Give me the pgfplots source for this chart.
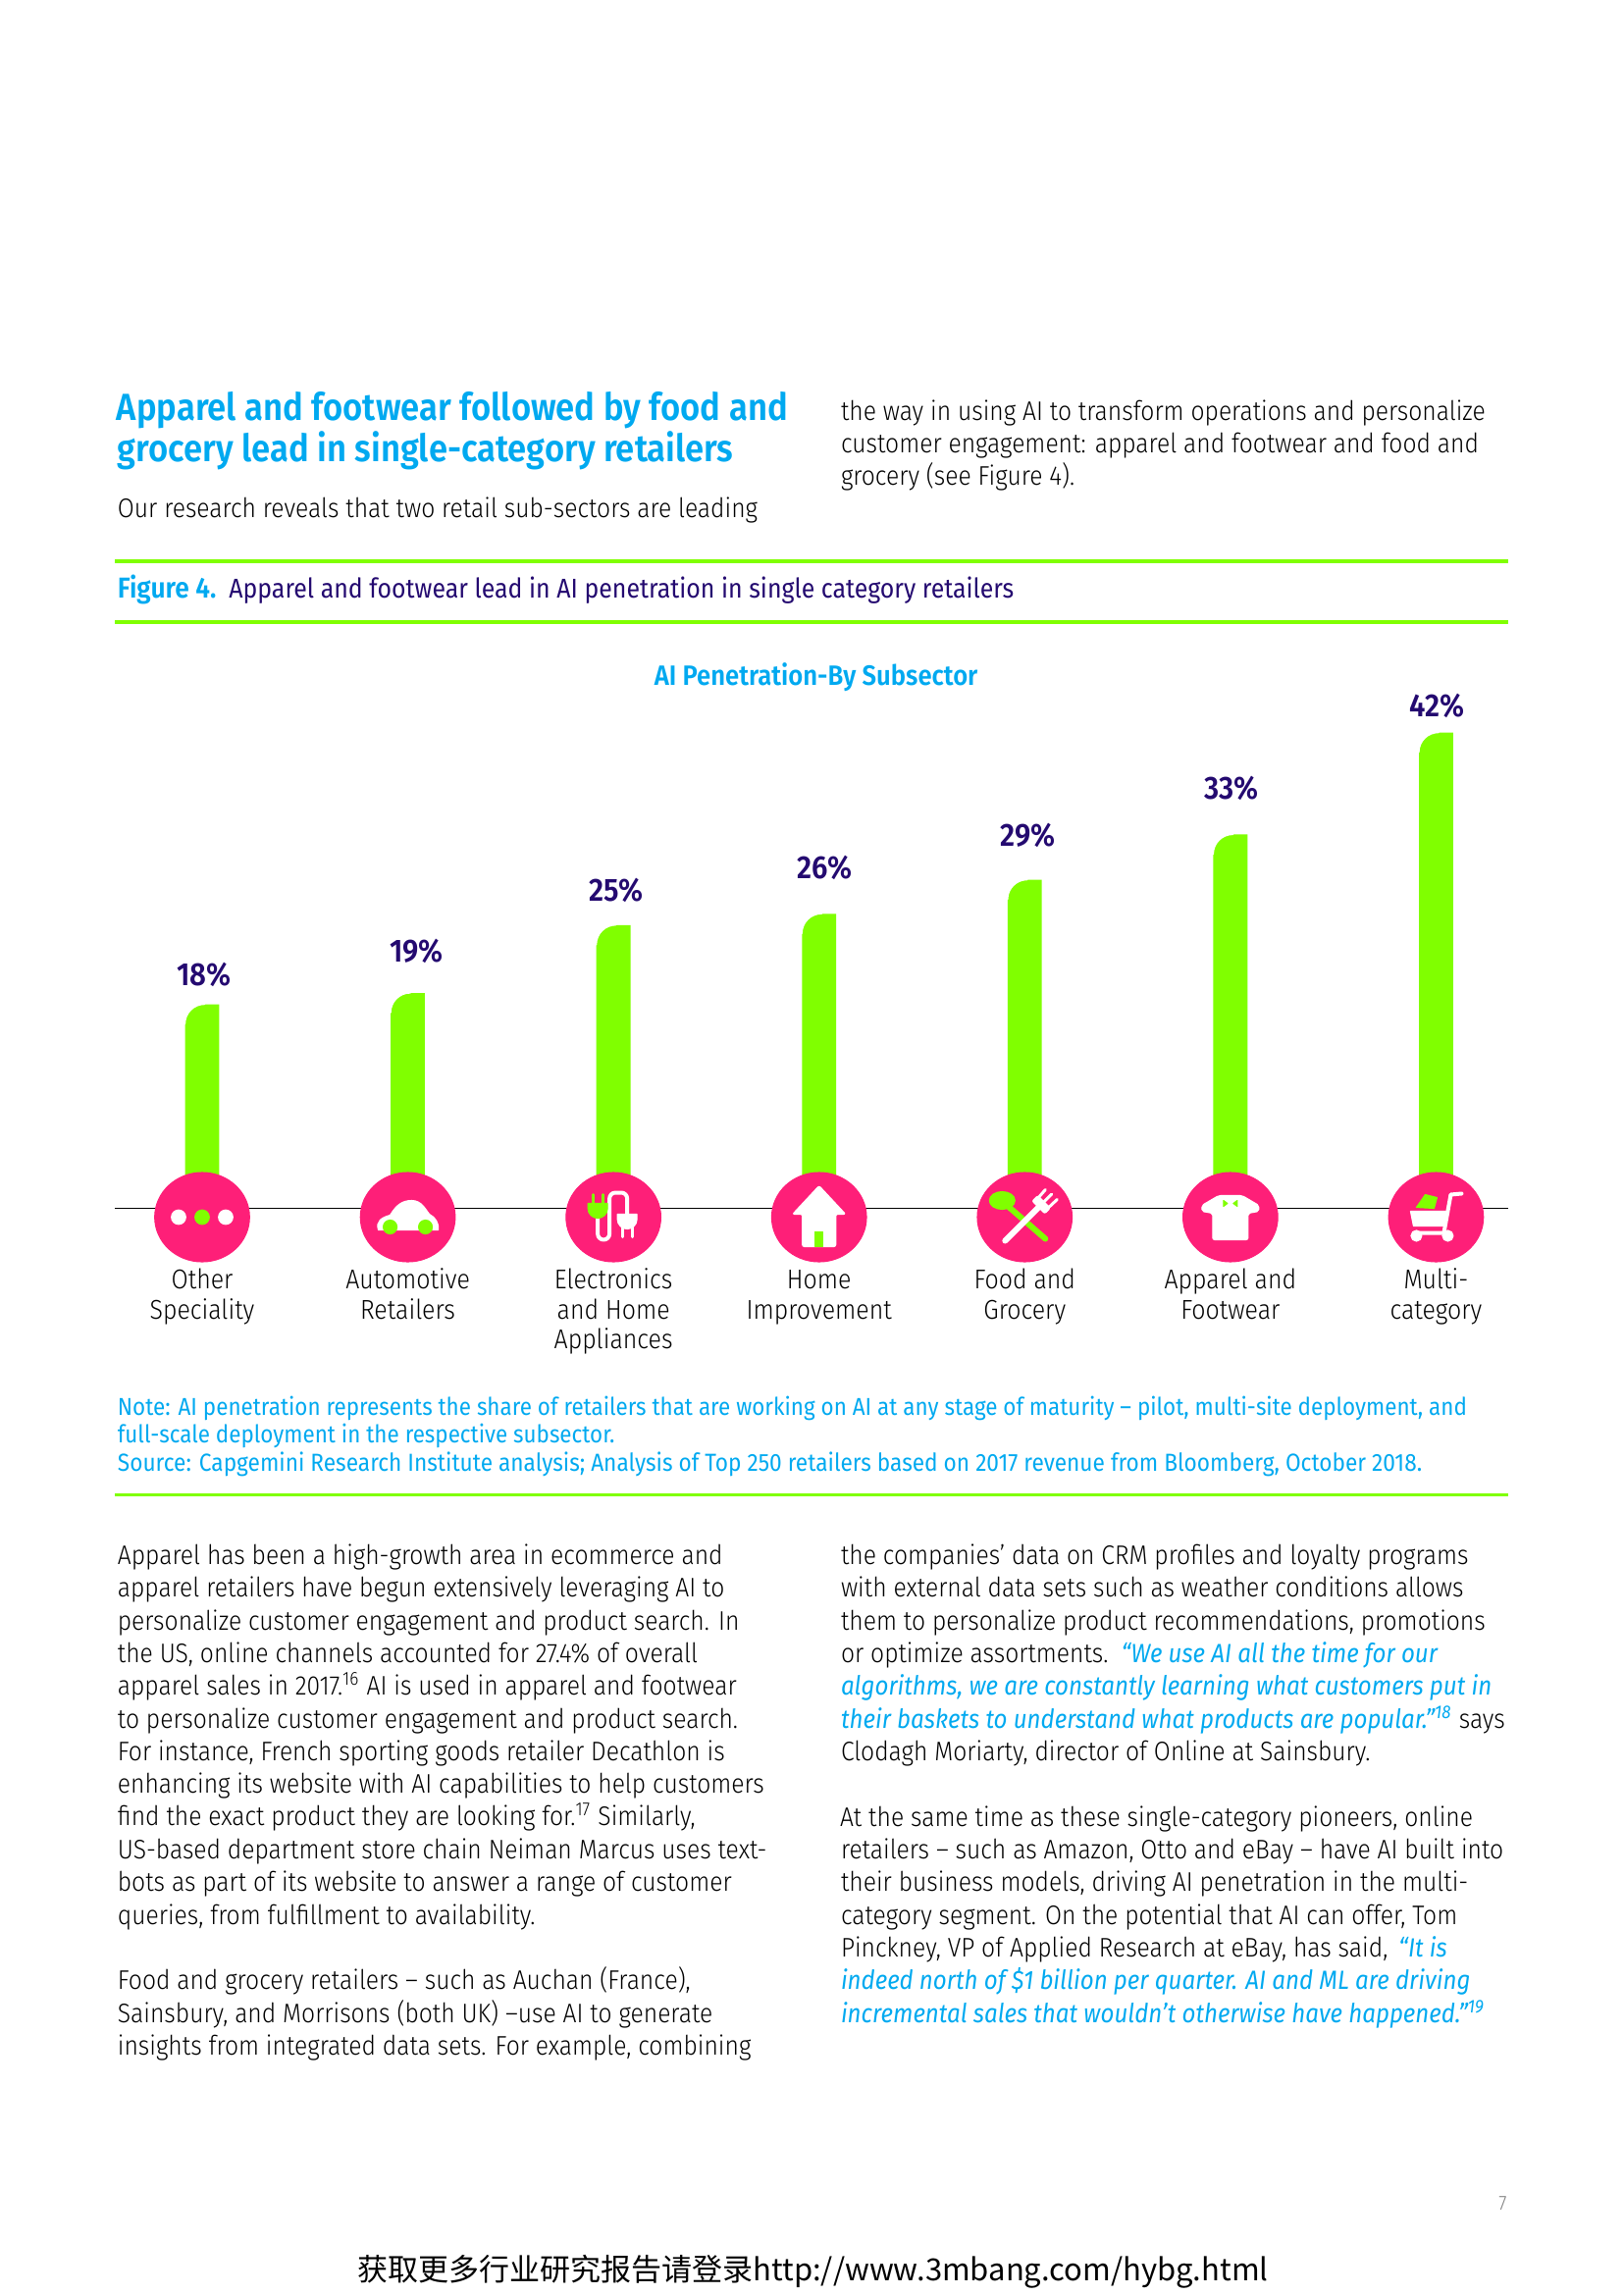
\documentclass[border=0pt]{standalone}
\usepackage{fontspec}
\usepackage{pgfplots}
\pgfplotsset{compat=1.18}
\setmainfont{Fira Sans}[UprightFont=* Light,ItalicFont=* Italic,BoldFont=* SemiBold,FakeStretch=0.9]
\newfontfamily\regfont{Fira Sans}[FakeStretch=0.9]
\newfontfamily\cjk{Noto Sans CJK SC}
\definecolor{lime}{HTML}{80FF00}
\definecolor{hot}{HTML}{FE1F78}
\definecolor{sky}{HTML}{00A9F0}
\definecolor{indigo}{HTML}{240A70}

% page is laid out in reference pixels: 1px = .36bp
\newcommand{\tl}[3]{\node[anchor=base west,inner sep=0pt] at (#1,#2) {#3};}
\newcommand{\body}{\fontsize{9.9}{12}\selectfont}
\newcommand{\qt}{\color{sky}\itshape\fontsize{9.68}{12}\selectfont}
\tikzset{px/.style={x=.36bp,y=-.36bp,line cap=round,line join=round}}

\pgfdeclareplotmark{barcorner}{%
  \fill[white,px] (-18.4,-1) -- (-18.4,20) -- (-17.4,20) arc[start angle=180,end angle=270,radius=20] -- (2.6,-1) -- cycle;
}
\pgfdeclareplotmark{dots}{\begin{scope}[px]
  \fill[hot] (0,0) ellipse (48.3 and 45.5);
  \fill[white] (-24,0) circle (7.3) (24,0) circle (7.3);
  \fill[lime] (0,0) circle (7.3);
\end{scope}}
\pgfdeclareplotmark{car}{\begin{scope}[px]
  \fill[hot] (0,0) ellipse (48.3 and 45.5);
  \fill[white] (-30,13) .. controls (-33,4) and (-26,0) .. (-18,-2) .. controls (-12,-12) and (-6,-17) .. (4,-17)
    .. controls (14,-17) and (18,-8) .. (22,-3) .. controls (28,0) and (32,6) .. (31,13) -- cycle;
  \fill[lime] (-18,10) circle (7) (18,10) circle (7);
\end{scope}}
\pgfdeclareplotmark{plug}{\begin{scope}[px]
  \fill[hot] (0,0) ellipse (48.3 and 45.5);
  \draw[white,line width=4*.36bp,rounded corners=6*.36bp] (-16,0) -- (-16,23) -- (-4,23) -- (-4,-25) -- (14,-25) -- (14,-2);
  \fill[lime] (-26,-14) -- (-6,-14) -- (-6,-9) .. controls (-6,-3) and (-11,1) .. (-16,1) .. controls (-21,1) and (-26,-3) .. (-26,-9) -- cycle;
  \draw[lime,line width=3*.36bp] (-21,-14) -- (-21,-23) (-11,-14) -- (-11,-23);
  \fill[white] (4,-3) -- (24,-3) -- (24,2) .. controls (24,8) and (19,12) .. (14,12) .. controls (9,12) and (4,8) .. (4,2) -- cycle;
  \draw[white,line width=3*.36bp] (9,10) -- (9,20) (19,10) -- (19,20);
\end{scope}}
\pgfdeclareplotmark{house}{\begin{scope}[px]
  \fill[hot] (0,0) ellipse (48.3 and 45.5);
  \fill[white,rounded corners=2*.36bp] (0,-32) -- (27,-3) -- (17,-3) -- (17,30) -- (-17,30) -- (-17,-3) -- (-27,-3) -- cycle;
  \fill[lime] (-4,15) rectangle (4,30);
\end{scope}}
\pgfdeclareplotmark{cutlery}{\begin{scope}[px]
  \fill[hot] (0,0) ellipse (48.3 and 45.5);
  \draw[lime,line width=6*.36bp] (-18,-12) -- (21,22);
  \fill[lime,rotate around={-42:(-23,-17)}] (-23,-17) ellipse (13 and 9);
  \draw[white,line width=6*.36bp] (14,-10) -- (-20,24);
  \fill[white,rounded corners=2*.36bp] (20.4,-3.6) -- (7.6,-16.4) -- (13.3,-22) -- (26,-9.3) -- cycle;
  \draw[white,line width=3*.36bp] (14.5,-20.5) -- (21,-28) (19.6,-15.6) -- (27.4,-23.4) (25,-10.5) -- (33,-18);
\end{scope}}
\pgfdeclareplotmark{shirt}{\begin{scope}[px]
  \fill[hot] (0,0) ellipse (48.3 and 45.5);
  \fill[white,rounded corners=2*.36bp] (-12,-22) -- (12,-22) -- (29,-12) -- (29,-6) -- (18,-4) -- (18,23) -- (-18,23) -- (-18,-4) -- (-29,-6) -- (-29,-12) -- cycle;
  \fill[lime] (-7,-17) -- (-3,-14) -- (-7,-11) -- cycle (7,-17) -- (3,-14) -- (7,-11) -- cycle;
\end{scope}}
\pgfdeclareplotmark{cart}{\begin{scope}[px]
  \fill[hot] (0,0) ellipse (48.3 and 45.5);
  \fill[lime] (-11,-23) -- (1,-20) -- (-2,-9) -- (-20,-10) -- cycle;
  \draw[white,line width=4*.36bp] (26,-24) -- (15,-23) -- (8,16) -- (-22,16);
  \fill[white] (-26,-6) -- (13,-6) -- (9,9) -- (-23,9) -- cycle;
  \fill[white] (-20,19) circle (5.5) (12,19) circle (5.5);
\end{scope}}

\pgfplotstableread{
x y dx dy
0 18 2 30
1 19 9 43
2 25 3 35
3 26 6 47
4 29 3 45
5 33 1 47
6 42 1 27
}\penetration

\begin{document}
\begin{tikzpicture}
\path[use as bounding box] (0,0) rectangle (1654*.36bp,-2339*.36bp);

\begin{scope}[x=.3581bp,y=-.3581bp]
% heading and first text
\tl{119}{430.5}{\color{sky}\fontsize{13.9}{16}\selectfont\bfseries Apparel and footwear followed by food and}
\tl{120}{472.5}{\color{sky}\fontsize{13.9}{16}\selectfont\bfseries grocery lead in single-category retailers}
\tl{120}{530.5}{\body Our research reveals that two retail sub-sectors are leading}
\tl{861}{430.5}{\body the way in using AI to transform operations and personalize}
\tl{861}{463.5}{\body customer engagement: apparel and footwear and food and}
\tl{861}{497.5}{\body grocery (see Figure 4).}
\fill[lime] (118,573) rectangle (1545,577);
\fill[lime] (118,635.4) rectangle (1545,639.4);
\tl{120}{613}{\color{sky}\fontsize{10.6}{12}\selectfont\bfseries Figure 4.}
\tl{234}{613}{\color{indigo}\regfont\fontsize{10}{12}\selectfont Apparel and footwear lead in AI penetration in single category retailers}
\node[anchor=base,inner sep=0pt] at (836,702) {\color{sky}\fontsize{10.3}{12}\selectfont\bfseries AI Penetration-By Subsector};
% note
\tl{120}{1450.5}{\color{sky}\regfont\fontsize{9}{11}\selectfont Note: AI penetration represents the share of retailers that are working on AI at any stage of maturity – pilot, multi-site deployment, and}
\tl{120}{1478.5}{\color{sky}\regfont\fontsize{9}{11}\selectfont full-scale deployment in the respective subsector.}
\tl{120}{1507.5}{\color{sky}\regfont\fontsize{9.1}{11}\selectfont Source: Capgemini Research Institute analysis; Analysis of Top 250 retailers based on 2017 revenue from Bloomberg, October 2018.}
\fill[lime] (118,1530) rectangle (1545,1533);
% left column
\tl{120}{1603}{\body Apparel has been a high-growth area in ecommerce and}
\tl{120}{1636.2}{\body apparel retailers have begun extensively leveraging AI to}
\tl{120}{1670.4}{\body personalize customer engagement and product search. In}
\tl{120}{1703.6}{\body the US, online channels accounted for 27.4\% of overall}
\tl{120}{1736.8}{\body apparel sales in 2017.\textsuperscript{16} AI is used in apparel and footwear}
\tl{120}{1771}{\body to personalize customer engagement and product search.}
\tl{120}{1804.2}{\body For instance, French sporting goods retailer Decathlon is}
\tl{120}{1837.4}{\body enhancing its website with AI capabilities to help customers}
\tl{120}{1870.6}{\body find the exact product they are looking for.\textsuperscript{17} Similarly,}
\tl{120}{1904.8}{\body US-based department store chain Neiman Marcus uses text-}
\tl{120}{1938}{\body bots as part of its website to answer a range of customer}
\tl{120}{1972.2}{\body queries, from fulfillment to availability.}
\tl{120}{2038.6}{\body Food and grocery retailers -- such as Auchan (France),}
\tl{120}{2072.8}{\body Sainsbury, and Morrisons (both UK) --use AI to generate}
\tl{120}{2106}{\body insights from integrated data sets. For example, combining}
% right column
\tl{861}{1603}{\body the companies’ data on CRM profiles and loyalty programs}
\tl{861}{1636.2}{\body with external data sets such as weather conditions allows}
\tl{861}{1670.4}{\body them to personalize product recommendations, promotions}
\tl{861}{1703.6}{\body or optimize assortments. \hspace{1.5bp}{\qt “We use AI all the time for our}}
\tl{861}{1736.8}{\qt algorithms, we are constantly learning what customers put in}
\tl{861}{1771}{\body {\qt their baskets to understand what products are popular.”\textsuperscript{18}} says}
\tl{861}{1804.2}{\body Clodagh Moriarty, director of Online at Sainsbury.}
\tl{860}{1871.6}{\body At the same time as these single-category pioneers, online}
\tl{861}{1904.8}{\body retailers -- such as Amazon, Otto and eBay -- have AI built into}
\tl{861}{1938}{\body their business models, driving AI penetration in the multi-}
\tl{861}{1972.2}{\body category segment. On the potential that AI can offer, Tom}
\tl{861}{2005.4}{\body Pinckney, VP of Applied Research at eBay, has said, \hspace{1.5bp}{\qt “It is}}
\tl{861}{2038.6}{\qt indeed north of \$1 billion per quarter. AI and ML are driving}
\tl{861}{2072.8}{\qt incremental sales that wouldn’t otherwise have happened.”\textsuperscript{19}}
\tl{1535}{2264}{\color{gray}\fontsize{7.5}{9}\selectfont 7}
\tl{366}{2337}{\fontsize{11.2}{14}\selectfont\cjk 获取更多行业研究报告请登录http://www.3mbang.com/hybg.html}
\end{scope}

\begin{axis}[
  at={(117.3*.36bp,-1231.3*.36bp)}, anchor=south west,
  scale only axis, width=1419.7*.36bp, height=519.3*.36bp,
  xmin=-0.4232, xmax=6.351, ymin=0, ymax=45,
  axis x line=bottom, axis y line=none,
  axis line style={-,black,line width=.4pt},
  xtick={0,...,6},
  xticklabels={{Other\\Speciality},{Automotive\\Retailers},{Electronics\\and Home\\Appliances},{Home\\Improvement},{Food and\\Grocery},{Apparel and\\Footwear},{Multi-\\category}},
  typeset ticklabels with strut,
  xticklabel style={align=center,font=\fontsize{10}{11}\selectfont,yshift=-51.5*.36bp},
  major tick length=0pt,
  clip=false,
]
\addplot[ybar,bar width=34.8*.36bp,bar shift=0pt,fill=lime,draw=none,
  point meta=y,
  visualization depends on=\thisrow{dx}\as\dx,
  visualization depends on=\thisrow{dy}\as\dy,
  /pgf/number format/assume math mode=true,
  nodes near coords={\pgfmathprintnumber\pgfplotspointmeta\%},
  every node near coord/.append style={anchor=center,text=indigo,
    font=\fontsize{11.8}{13}\selectfont\bfseries,inner sep=0pt,
    xshift=\dx*.36bp,yshift=\dy*.36bp},
] table[x=x,y=y] {\penetration};
\addplot[only marks,mark=barcorner] table[x=x,y=y] {\penetration};
\addplot[only marks,mark=dots] coordinates {(0,-0.797)};
\addplot[only marks,mark=car] coordinates {(1,-0.797)};
\addplot[only marks,mark=plug] coordinates {(2,-0.797)};
\addplot[only marks,mark=house] coordinates {(3,-0.797)};
\addplot[only marks,mark=cutlery] coordinates {(4,-0.797)};
\addplot[only marks,mark=shirt] coordinates {(5,-0.797)};
\addplot[only marks,mark=cart] coordinates {(6,-0.797)};
\end{axis}
\end{tikzpicture}
\end{document}
